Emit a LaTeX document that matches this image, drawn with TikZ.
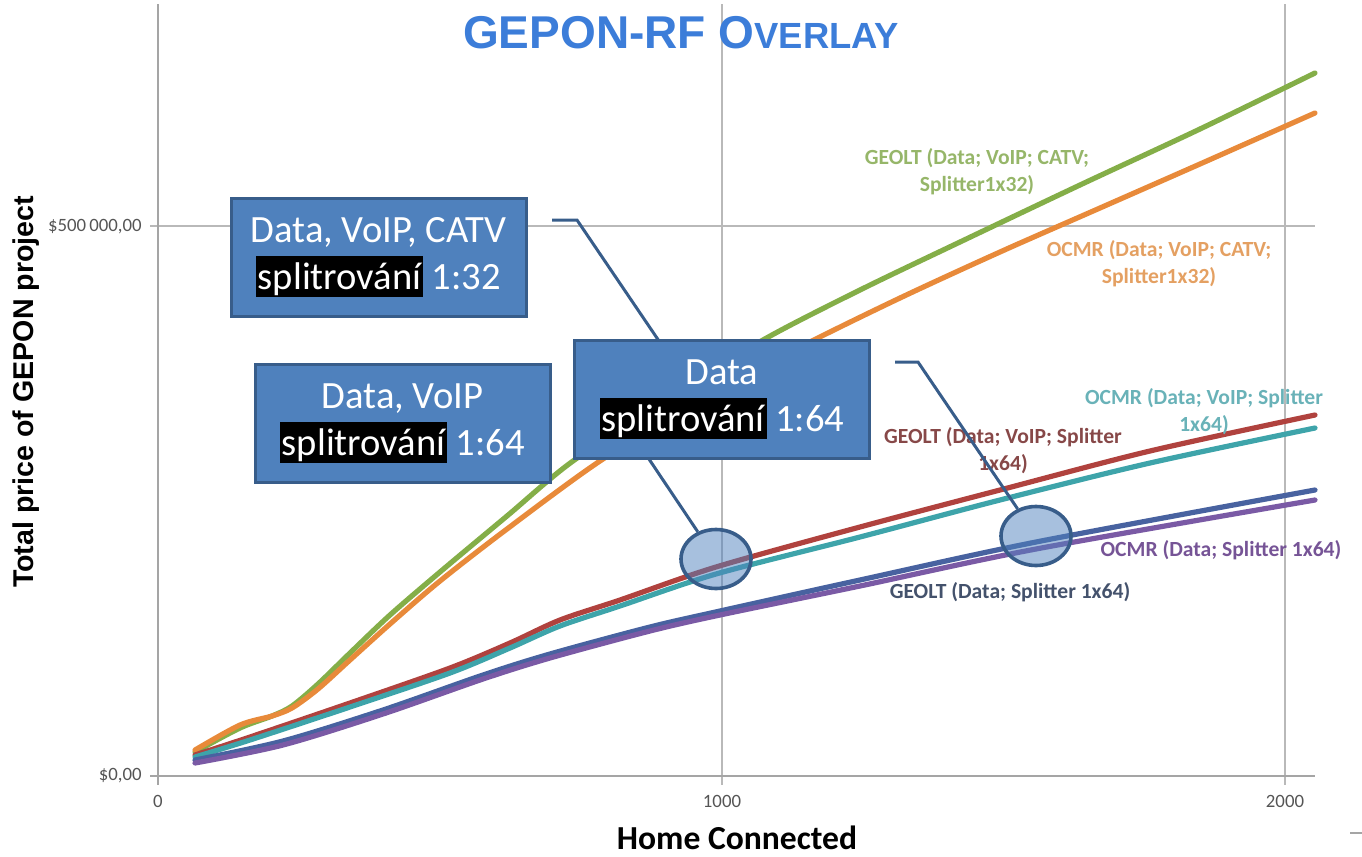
\documentclass[tikz,border=0pt]{standalone}
\usepackage{fontspec}
\setmainfont{Carlito}
\newfontfamily\arialfont{Liberation Sans}
\usetikzlibrary{positioning,shapes.geometric}

\definecolor{titleblue}{RGB}{60,125,217}
\definecolor{boxblue}{RGB}{79,129,189}
\definecolor{boxborder}{RGB}{56,93,138}
\definecolor{gridgray}{RGB}{185,185,185}
\definecolor{axisgray}{RGB}{165,165,165}
\definecolor{tickgray}{RGB}{85,85,85}
\definecolor{cgreen}{RGB}{132,174,72}
\definecolor{corange}{RGB}{232,138,58}
\definecolor{cred}{RGB}{176,66,62}
\definecolor{cteal}{RGB}{62,164,170}
\definecolor{cblue}{RGB}{72,98,160}
\definecolor{cpurple}{RGB}{122,90,165}
\definecolor{lgreen}{RGB}{150,182,105}
\definecolor{lorange}{RGB}{228,160,98}
\definecolor{lteal}{RGB}{105,178,184}
\definecolor{lred}{RGB}{135,72,72}
\definecolor{lpurple}{RGB}{118,84,150}
\definecolor{lblue}{RGB}{68,82,108}

\newcommand\splhl[1]{{\setlength{\fboxsep}{0.8pt}\colorbox{black}{\vphantom{Íp}#1}}}

\begin{document}
\begin{tikzpicture}[x=0.5pt,y=-0.5pt,
  grid/.style={draw=gridgray, line width=0.8pt},
  axis/.style={draw=axisgray, line width=1.1pt},
  curve/.style={line width=2.6pt, line join=round, line cap=round},
  tick/.style={font=\fontsize{9.4}{11}\selectfont, text=tickgray, inner sep=0pt},
  lbl/.style={font=\bfseries\fontsize{10.8}{13.5}\selectfont, align=center, inner sep=0pt},
  infobox/.style={draw=boxborder, fill=boxblue, line width=1.5pt, minimum width=147.5pt, minimum height=59pt, inner sep=0pt, align=center, text=white, font=\fontsize{19.3}{23.5}\selectfont},
  spot/.style={ellipse, draw=boxborder, line width=1.8pt, fill=boxblue, fill opacity=0.5, minimum width=35pt, minimum height=29.5pt, inner sep=0pt},
  callout/.style={draw=boxborder, line width=1.5pt}]
  \useasboundingbox (0,0) rectangle (1362,857);

  \draw[grid] (722,4) -- (722,785);
  \draw[grid] (1285,4) -- (1285,785);
  \draw[grid] (150,226) -- (1315,226);
  \draw[axis] (158,4) -- (158,785);
  \draw[axis] (150,776) -- (1315,776);
  \draw[axis] (1350,833) -- (1362,833);

  \node[tick, anchor=east] (y500) at (142,227) {\$500\,000,00};
  \node[tick, anchor=east] (y0) at (142,776) {\$0,00};
  \node[tick] (x0) at (158,801) {0};
  \node[tick] (x1000) at (722,801) {1000};
  \node[tick] (x2000) at (1285,801) {2000};

  \node[anchor=base, text=titleblue, font=\arialfont\bfseries] (title) at (681,48) {\fontsize{23}{28}\selectfont GEPON-RF O\fontsize{18.2}{22}\selectfont VERLAY};
  \node[rotate=90, anchor=base, font=\arialfont\bfseries\fontsize{14.3}{17}\selectfont] (ylabel) at (33,392) {Total price of GEPON project};
  \node[anchor=base, font=\bfseries\fontsize{16.8}{20}\selectfont] (xlabel) at (737,849) {Home Connected};

  \draw[curve, cgreen] plot[smooth, tension=0.5] coordinates {(195,752) (240,728) (272,716) (292,706) (318,684) (350,653) (390,615) (440,572) (507,516) (573,461) (670,398) (763,340) (860,290) (960,242) (1080,185) (1200,129) (1315,73)};
  \draw[curve, corange] plot[smooth, tension=0.5] coordinates {(195,750) (240,725) (272,716) (292,708) (318,689) (350,660) (390,624) (440,581) (507,529) (600,461) (700,400) (800,347) (900,298) (1000,252) (1100,208) (1200,164) (1315,113)};
  \draw[curve, cred] plot[smooth, tension=0.5] coordinates {(195,755) (250,737) (350,703) (450,668) (510,643) (560,620) (620,600) (716,567) (860,527) (1000,490) (1150,451) (1315,415)};
  \draw[curve, cteal] plot[smooth, tension=0.5] coordinates {(195,757) (250,740) (350,707) (450,673) (510,648) (560,626) (620,606) (716,574) (860,537) (1000,500) (1150,463) (1315,428)};
  \draw[curve, cblue] plot[smooth, tension=0.5] coordinates {(195,760) (283,741) (383,710) (483,675) (550,654) (650,627) (720,611) (860,580) (1036,542) (1315,490)};
  \draw[curve, cpurple] plot[smooth, tension=0.5] coordinates {(195,763) (283,745) (383,714) (483,679) (550,658) (650,631) (720,615) (860,586) (1036,549) (1315,500)};

  \node[lbl, text=lgreen] (lab1) at (977,172) {GEOLT (Data; VoIP; CATV;\\Splitter1x32)};
  \node[lbl, text=lorange] (lab2) at (1159,264) {OCMR (Data; VoIP; CATV;\\Splitter1x32)};
  \node[lbl, text=lteal] (lab3) at (1204,412) {OCMR (Data; VoIP; Splitter\\1x64)};
  \node[lbl, text=lred] (lab4) at (1003,451) {GEOLT (Data; VoIP; Splitter\\1x64)};
  \node[lbl, text=lpurple] (lab5) at (1221,550) {OCMR (Data; Splitter 1x64)};
  \node[lbl, text=lblue] (lab6) at (1010,592) {GEOLT (Data; Splitter 1x64)};

  \node[spot] (ellL) at (716,559) {};
  \node[spot] (ellR) at (1036,536) {};

  \node[infobox] (catv) at (378.5,257.5) {Data, VoIP, CATV\\\splhl{splitrování} 1:32};
  \coordinate (catvA) at (552,220);
  \coordinate (catvB) at (577,220);
  \coordinate (catvC) at (680,372);
  \draw[callout] (catvA) -- (catvB) -- (catvC);

  \node[infobox] (voip) at (402.5,423.5) {Data, VoIP\\\splhl{splitrování} 1:64};
  \coordinate (voipA) at (576,386);
  \coordinate (voipB) at (600,386);
  \draw[callout] (voipA) -- (voipB) -- (ellL);

  \node[infobox] (data) at (722,399.5) {Data\\\splhl{splitrování} 1:64};
  \coordinate (dataA) at (895,362);
  \coordinate (dataB) at (918,362);
  \draw[callout] (dataA) -- (dataB) -- (ellR);
\end{tikzpicture}
\end{document}
